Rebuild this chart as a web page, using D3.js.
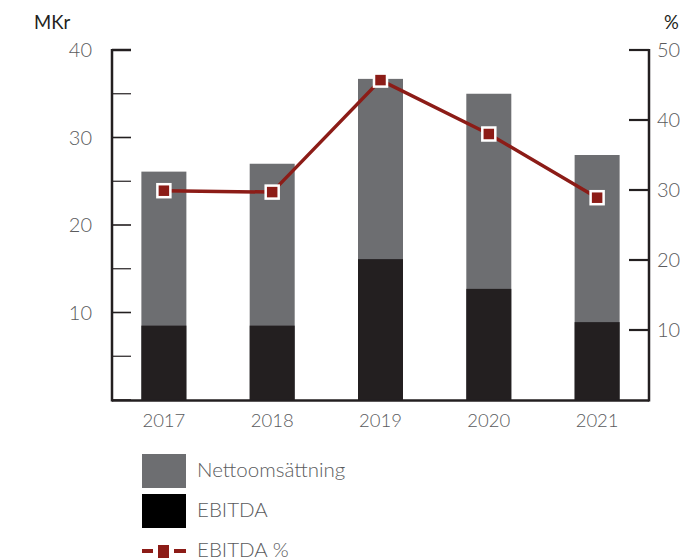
<!DOCTYPE html>
<html><head><meta charset="utf-8">
<script src="https://cdn.jsdelivr.net/npm/d3@7"></script>
<style>body{margin:0;background:#fff}svg{display:block}text{font-family:Lato,"Open Sans",sans-serif}</style>
</head><body>
<svg id="c" width="683" height="560"></svg>
<script>
const years = ["2017","2018","2019","2020","2021"];
const netSales = [26.1, 27.0, 36.7, 35.0, 28.0];
const ebitda = [8.5, 8.5, 16.1, 12.7, 8.9];
const ebitdaPct = [29.9, 29.7, 45.7, 38.0, 28.9];
const leftTicks = [10, 20, 30, 40];
const leftMinor = [5, 15, 25, 35];
const rightTicks = [10, 20, 30, 40, 50];
const legendItems = ["Nettoomsättning", "EBITDA", "EBITDA %"];

const svg = d3.select("#c");
const L = 112, R = 649, T = 50, B = 400;
const ink = "#231f20", grey = "#6d6e71", red = "#8c1c17", txt = "#5a5b5d";

const x = d3.scalePoint().domain(years).range([L, R]).padding(0.479);
const yL = d3.scaleLinear().domain([0, 40]).range([B, T]);
const yR = d3.scaleLinear().domain([0, 50]).range([B, T]);
const bw = 45;

// bars
svg.append("g").selectAll("rect").data(years).join("rect")
  .attr("x", d => x(d) - bw/2).attr("width", bw)
  .attr("y", (d,i) => yL(netSales[i])).attr("height", (d,i) => B - yL(netSales[i]))
  .attr("fill", grey);
svg.append("g").selectAll("rect").data(years).join("rect")
  .attr("x", d => x(d) - bw/2).attr("width", bw)
  .attr("y", (d,i) => yL(ebitda[i])).attr("height", (d,i) => B - yL(ebitda[i]))
  .attr("fill", ink);

// left axis
const gl = svg.append("g").attr("transform", `translate(${L},0)`);
gl.append("line").attr("x1",0).attr("x2",0).attr("y1",T-1).attr("y2",B+1.5).attr("stroke",ink).attr("stroke-width",2.5);
gl.selectAll(".maj").data([0, ...leftTicks]).join("line").attr("x1",0).attr("x2",19)
  .attr("y1",d=>yL(d)).attr("y2",d=>yL(d)).attr("stroke",ink).attr("stroke-width",d=>d===40?2.5:1.6);
gl.selectAll(".min").data(leftMinor).join("line").attr("x1",0).attr("x2",19)
  .attr("y1",d=>yL(d)).attr("y2",d=>yL(d)).attr("stroke",ink).attr("stroke-width",1.2);
gl.selectAll("text").data(leftTicks).join("text").attr("x",-20).attr("y",d=>yL(d)).attr("dy","0.35em")
  .attr("text-anchor","end").attr("font-size",20).attr("font-weight",300).attr("fill",txt).text(d=>d);

// right axis
const gr = svg.append("g").attr("transform", `translate(${R},0)`);
gr.append("line").attr("x1",0).attr("x2",0).attr("y1",T-1).attr("y2",B+1.5).attr("stroke",ink).attr("stroke-width",2.5);
gr.selectAll("line.t").data(rightTicks).join("line").attr("class","t").attr("x1",0).attr("x2",-20)
  .attr("y1",d=>yR(d)).attr("y2",d=>yR(d)).attr("stroke",ink).attr("stroke-width",2.2);
gr.selectAll("text").data(rightTicks).join("text").attr("x",8).attr("y",d=>yR(d)).attr("dy","0.35em")
  .attr("text-anchor","start").attr("font-size",20).attr("font-weight",300).attr("fill",txt).text(d=>d);

// bottom axis
svg.append("line").attr("x1",L).attr("x2",R).attr("y1",B+0.5).attr("y2",B+0.5).attr("stroke",ink).attr("stroke-width",2.5);
svg.append("g").selectAll("text").data(years).join("text").attr("x",d=>x(d)).attr("y",B+21).attr("dy","0.35em")
  .attr("text-anchor","middle").attr("font-size",18.5).attr("font-weight",300).attr("fill",txt).text(d=>d);

// axis titles
svg.append("text").attr("x",34).attr("y",29).attr("font-size",18.5).attr("fill",ink).text("MKr");
svg.append("text").attr("x",664).attr("y",29).attr("font-size",18.5).attr("fill",ink).text("%");

// line
const line = d3.line().x((d,i)=>x(years[i])).y(d=>yR(d));
svg.append("path").datum(ebitdaPct).attr("d",line).attr("fill","none").attr("stroke",red).attr("stroke-width",3.5);
svg.append("g").selectAll("rect").data(ebitdaPct).join("rect")
  .attr("x",(d,i)=>x(years[i])-6.5).attr("y",d=>yR(d)-6.5).attr("width",13).attr("height",13)
  .attr("fill",red).attr("stroke","#fff").attr("stroke-width",2.5);

// legend
const lg = svg.append("g");
lg.append("rect").attr("x",142).attr("y",454).attr("width",44).attr("height",34).attr("fill",grey);
lg.append("rect").attr("x",142).attr("y",494).attr("width",44).attr("height",34).attr("fill","#000");
lg.append("line").attr("x1",142).attr("x2",153).attr("y1",551).attr("y2",551).attr("stroke",red).attr("stroke-width",4);
lg.append("line").attr("x1",174).attr("x2",186).attr("y1",551).attr("y2",551).attr("stroke",red).attr("stroke-width",4);
lg.append("rect").attr("x",158).attr("y",545).attr("width",11).attr("height",13).attr("fill",red);
lg.selectAll("text").data(legendItems).join("text").attr("x",197).attr("y",(d,i)=>477+i*40)
  .attr("font-size",20.5).attr("font-weight",300).attr("fill",txt).text(d=>d);
</script>
</body></html>
